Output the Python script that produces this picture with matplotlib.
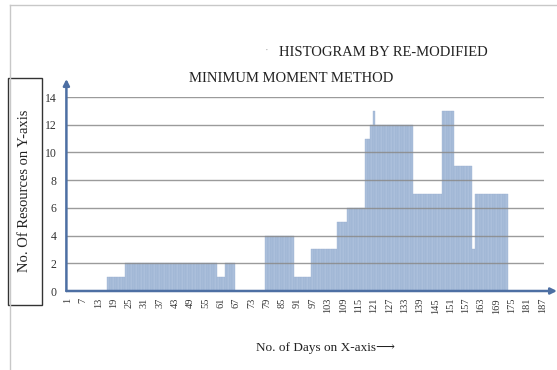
import matplotlib
matplotlib.use("Agg")
import matplotlib.pyplot as plt
from matplotlib.lines import Line2D
from matplotlib.patches import Rectangle

# resources needed on each day, day 1 .. 187
DAYS = list(range(1, 188))
RESOURCES = [
    0, 0, 0, 0, 0, 0, 0, 0, 0, 0, 0, 0, 0, 0, 0, 0,          # 1-16
    1, 1, 1, 1, 1, 1, 1,                                     # 17-23
    2, 2, 2, 2, 2, 2, 2, 2, 2, 2, 2, 2, 2, 2, 2, 2, 2, 2,    # 24-41
    2, 2, 2, 2, 2, 2, 2, 2, 2, 2, 2, 2, 2, 2, 2, 2, 2, 2,    # 42-59
    1, 1, 1,                                                 # 60-62
    2, 2, 2, 2,                                              # 63-66
    0, 0, 0, 0, 0, 0, 0, 0, 0, 0, 0, 0,                      # 67-78
    4, 4, 4, 4, 4, 4, 4, 4, 4, 4, 4,                         # 79-89
    1, 1, 1, 1, 1, 1, 1,                                     # 90-96
    3, 3, 3, 3, 3, 3, 3, 3, 3, 3,                            # 97-106
    5, 5, 5, 5,                                              # 107-110
    6, 6, 6, 6, 6, 6, 6,                                     # 111-117
    11, 11, 12, 13,                                          # 118-121
    12, 12, 12, 12, 12, 12, 12, 12, 12, 12, 12, 12, 12, 12, 12,  # 122-136
    7, 7, 7, 7, 7, 7, 7, 7, 7, 7, 7,                         # 137-147
    13, 13, 13, 13, 13,                                      # 148-152
    9, 9, 9, 9, 9, 9, 9,                                     # 153-159
    3,                                                       # 160
    7, 7, 7, 7, 7, 7, 7, 7, 7, 7, 7, 7, 7,                   # 161-173
    0, 0, 0, 0, 0, 0, 0, 0, 0, 0, 0, 0, 0, 0,                # 174-187
]
TICK_DAYS = list(range(1, 188, 6))
Y_TICKS = [0, 2, 4, 6, 8, 10, 12, 14]

TITLE_1 = "HISTOGRAM BY RE-MODIFIED"
TITLE_2 = "MINIMUM MOMENT METHOD"
X_LABEL = "No. of Days on X-axis\u27f6"
Y_LABEL = "No. Of Resources on Y-axis"

SERIF = ["Liberation Serif", "DejaVu Serif", "DejaVu Sans"]
W, H = 557, 370
BAR_COLOR = "#abbfdb"
AXIS_COLOR = "#4d6fa3"
GRID_COLOR = "#8a8a8a"


def fx(x):
    return x / W


def fy(y):
    return 1 - y / H


fig = plt.figure(figsize=(W / 100, H / 100), dpi=100)
fig.patch.set_facecolor("white")

# plot area: day 0.5 .. 187.5 between x=66 and x=544 px, 0..14 between y=291 and y=97
ax = fig.add_axes([fx(66.4), fy(291), fx(543.6) - fx(66.4), fy(97) - fy(291)])
ax.bar(DAYS, RESOURCES, width=1.0, color=BAR_COLOR, edgecolor="#93abcd",
       linewidth=0.25, zorder=1)
ax.set_xlim(0.5, 187.5)
ax.set_ylim(0, 14)
for v in Y_TICKS[1:]:
    ax.axhline(v, color=GRID_COLOR, lw=1.0, alpha=0.85, zorder=2)
for s in ax.spines.values():
    s.set_visible(False)

ax.set_xticks(TICK_DAYS)
ax.set_xticklabels([str(d) for d in TICK_DAYS], rotation=90, family=SERIF,
                   fontsize=7.5, color="#333333")
ax.set_yticks(Y_TICKS)
ax.set_yticklabels([str(v) for v in Y_TICKS], family=SERIF, fontsize=8.5,
                   color="#333333")
ax.tick_params(axis="both", length=0)
ax.tick_params(axis="x", pad=5)
ax.tick_params(axis="y", pad=7)

# axis arrows
arrow = dict(arrowstyle="-|>", color=AXIS_COLOR, lw=1.8, mutation_scale=9,
             shrinkA=0, shrinkB=0)
ax.annotate("", xy=(fx(66.4), fy(79)), xytext=(fx(66.4), fy(291)),
            xycoords="figure fraction", textcoords="figure fraction",
            arrowprops=arrow)
ax.annotate("", xy=(fx(557), fy(291)), xytext=(fx(66.4), fy(291)),
            xycoords="figure fraction", textcoords="figure fraction",
            arrowprops=arrow)

# titles and labels
fig.text(fx(383), fy(53), TITLE_1, family=SERIF, fontsize=10.5,
         ha="center", va="center", color="#222222")
fig.text(fx(291), fy(78), TITLE_2, family=SERIF, fontsize=10.5,
         ha="center", va="center", color="#222222")
fig.text(fx(267), fy(50), "\u00b7", family=SERIF, fontsize=8,
         ha="center", va="center", color="#aaaaaa")
fig.text(fx(325), fy(348), X_LABEL, family=SERIF, fontsize=9.5,
         ha="center", va="center", color="#222222")
fig.text(fx(25), fy(191), Y_LABEL, family=SERIF, fontsize=10.5, rotation=90,
         ha="center", va="center", color="#222222")

# box around the y label and the light outer frame
fig.add_artist(Rectangle((fx(8), fy(305)), fx(42) - fx(8), fy(78) - fy(305),
                         transform=fig.transFigure, fill=False,
                         edgecolor="#333333", lw=1.0))
fig.add_artist(Line2D([fx(10), fx(557)], [fy(5), fy(5)],
                      transform=fig.transFigure, color="#c8c8c8", lw=1.0))
fig.add_artist(Line2D([fx(10), fx(10)], [fy(5), fy(370)],
                      transform=fig.transFigure, color="#c8c8c8", lw=1.0))

fig.savefig("out.png", dpi=100)
